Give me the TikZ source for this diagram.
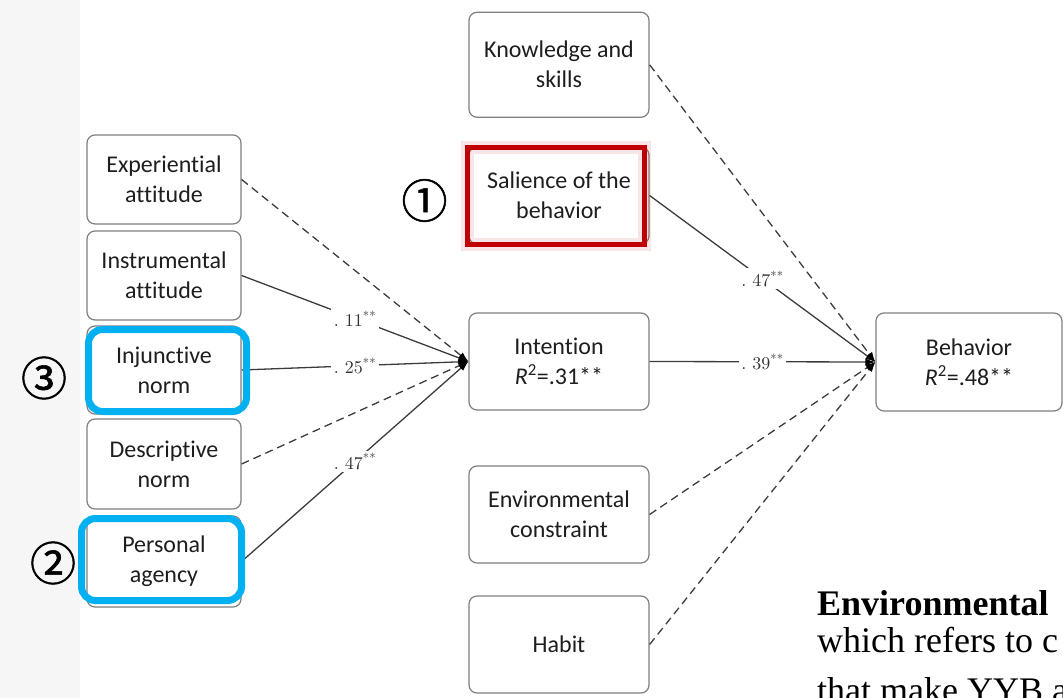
\documentclass[tikz,border=0pt]{standalone}
\usepackage{fontspec}
\newfontfamily\boxfont{Carlito}[Ligatures=NoCommon]
\newfontfamily\timesfont{Liberation Serif}
\newfontfamily\circfont{Noto Sans CJK SC}[FakeBold=1.2]
\newfontfamily\coeffont{lmroman10-regular.otf}
\usetikzlibrary{arrows.meta}

\definecolor{edgegray}{RGB}{60,60,60}
\definecolor{boxgray}{RGB}{127,127,127}
\definecolor{hlblue}{RGB}{0,176,240}
\definecolor{hlred}{RGB}{192,0,0}
\definecolor{txt}{RGB}{30,30,30}
\definecolor{stripbg}{RGB}{247,246,247}

\begin{document}
\begin{tikzpicture}[x=1pt,y=-1pt,
  box/.style={draw=boxgray, line width=1.2pt, rounded corners=8pt, fill=white,
    align=center, text=txt, inner sep=0pt,
    font=\boxfont\fontsize{24}{30}\selectfont},
  sidebox/.style={box, minimum width=154pt},
  midbox/.style={box, minimum width=180pt},
  link/.style={draw=edgegray, line width=1.3pt, -{Latex[length=10pt,width=7pt,color=black]}},
  weak/.style={link, dash pattern=on 8pt off 5pt},
  coef/.style={midway, fill=white, inner sep=2.5pt, text=black!80,
    font=\coeffont\fontsize{18}{18}\selectfont},
  circnum/.style={font=\circfont\fontsize{46}{46}\selectfont, inner sep=0pt},
  prose/.style={anchor=base west, inner sep=0pt, text=black,
    font=\timesfont\fontsize{36}{40}\selectfont}
]
\useasboundingbox (0,0) rectangle (1063,698);
\clip (0,0) rectangle (1063,698);

% pale strip along the left edge
\fill[stripbg] (0,0) rectangle (80,698);

% antecedents of intention
\node[sidebox, minimum height=89pt] (exp)   at (164,179.5) {Experiential\\attitude};
\node[sidebox, minimum height=89pt] (instr) at (164,275.5) {Instrumental\\attitude};
\node[sidebox, minimum height=88pt] (inj)   at (164,370)   {Injunctive\\norm};
\node[sidebox, minimum height=90pt] (desc)  at (164,464)   {Descriptive\\norm};
\node[sidebox, minimum height=91pt] (pers)  at (164,561.5) {Personal\\agency};

% middle column
\node[midbox, minimum height=105pt] (know) at (559,64.75) {Knowledge and\\skills};
\node[midbox, minimum height=97pt]  (sal)  at (559,195.5) {Salience of the\\behavior};
\node[midbox, minimum height=97pt]  (int)  at (559,361.5) {Intention\\\textit{R}\textsuperscript{2}=.31**};
\node[midbox, minimum height=97pt]  (env)  at (559,514.5) {Environmental\\constraint};
\node[midbox, minimum height=97pt]  (hab)  at (559,644.5) {Habit};

% outcome
\node[box, minimum width=186pt, minimum height=98pt] (beh) at (969,362) {Behavior\\\textit{R}\textsuperscript{2}=.48**};

% paths into intention
\draw[weak] (exp.east) -- (int.west);
\draw[link] (instr.east) -- node[coef] {.\ 11\textsuperscript{**}} (int.west);
\draw[link] (inj.east) -- node[coef] {.\ 25\textsuperscript{**}} (int.west);
\draw[weak] (desc.east) -- (int.west);
\draw[link] (pers.east) -- node[coef] {.\ 47\textsuperscript{**}} (int.west);

% paths into behavior
\draw[weak] (know.east) -- (beh.west);
\draw[link] (sal.east) -- node[coef] {.\ 47\textsuperscript{**}} (beh.west);
\draw[link] (int.east) -- node[coef] {.\ 39\textsuperscript{**}} (beh.west);
\draw[weak] (env.east) -- (beh.west);
\draw[weak] (hab.east) -- (beh.west);

% highlight frames
\draw[hlred, line width=13pt, opacity=0.10] (467.5,147.5) rectangle (644.5,244.5);
\draw[hlred, line width=5pt] (467.5,147.5) rectangle (644.5,244.5);
\draw[hlblue, line width=7pt, rounded corners=14pt] (88.5,329.5) rectangle (246.5,411.5);
\draw[hlblue, line width=7pt, rounded corners=14pt] (81.5,518.5) rectangle (241.5,600.5);

% numbered markers
\node[circnum] (n1) at (424.5,200.5) {①};
\node[circnum] (n3) at (44,378) {③};
\node[circnum] (n2) at (53,563) {②};

% running text at the lower right
\node[prose, font=\timesfont\bfseries\fontsize{36}{40}\selectfont] (p1) at (817,615) {Environmental};
\node[prose] (p2) at (817,652) {which refers to c};
\node[prose] (p3) at (817,702) {that make YYB a};
\end{tikzpicture}
\end{document}
